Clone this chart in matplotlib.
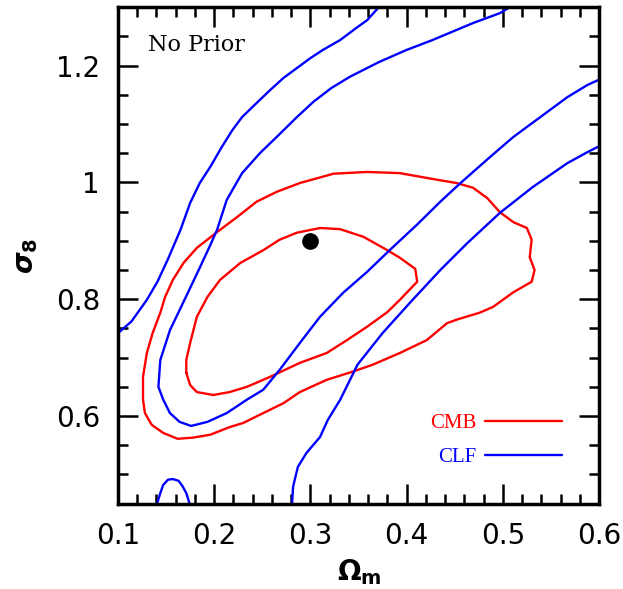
import matplotlib
matplotlib.use("Agg")
import matplotlib.pyplot as plt
from matplotlib.ticker import MultipleLocator

# CMB contours (Omega_m, sigma_8), both closed
cmb_outer_om = [0.126, 0.126, 0.130, 0.136, 0.144, 0.149, 0.157, 0.168, 0.182, 0.203, 0.224, 0.244,
                0.265, 0.289, 0.324, 0.359, 0.393, 0.427, 0.452, 0.469, 0.484, 0.497, 0.511, 0.525,
                0.530, 0.528, 0.533, 0.530, 0.511, 0.490, 0.476, 0.452, 0.442, 0.421, 0.393, 0.365,
                0.344, 0.317, 0.289, 0.272, 0.251, 0.230, 0.216, 0.196, 0.178, 0.162, 0.147, 0.135,
                0.128, 0.126]
cmb_outer_s8 = [0.628, 0.667, 0.708, 0.742, 0.777, 0.804, 0.833, 0.862, 0.888, 0.915, 0.941, 0.967,
                0.984, 0.999, 1.015, 1.018, 1.016, 1.006, 0.999, 0.991, 0.973, 0.949, 0.932, 0.922,
                0.902, 0.872, 0.850, 0.830, 0.812, 0.787, 0.777, 0.765, 0.759, 0.730, 0.708, 0.688,
                0.676, 0.662, 0.641, 0.622, 0.605, 0.588, 0.581, 0.568, 0.563, 0.561, 0.571, 0.585,
                0.605, 0.628]

cmb_inner_om = [0.171, 0.171, 0.175, 0.182, 0.193, 0.206, 0.227, 0.251, 0.268, 0.286, 0.310, 0.331,
                0.355, 0.380, 0.393, 0.409, 0.411, 0.393, 0.380, 0.359, 0.338, 0.317, 0.289, 0.258,
                0.234, 0.216, 0.199, 0.182, 0.175, 0.171]
cmb_inner_s8 = [0.674, 0.696, 0.725, 0.770, 0.804, 0.833, 0.862, 0.884, 0.902, 0.914, 0.922, 0.920,
                0.907, 0.884, 0.871, 0.852, 0.830, 0.799, 0.778, 0.753, 0.730, 0.708, 0.691, 0.667,
                0.650, 0.641, 0.636, 0.641, 0.653, 0.674]

# CLF contours, open where they leave the box
clf_inner_om = [0.520, 0.507, 0.497, 0.469, 0.427, 0.400, 0.371, 0.359, 0.341, 0.322, 0.303, 0.286,
                0.265, 0.248, 0.229, 0.213, 0.203, 0.196, 0.183, 0.170, 0.154, 0.144, 0.142, 0.147,
                0.154, 0.164, 0.176, 0.193, 0.213, 0.234, 0.251, 0.268, 0.289, 0.310, 0.334, 0.359,
                0.383, 0.411, 0.435, 0.456, 0.487, 0.511, 0.539, 0.567, 0.588, 0.600, 0.614]
clf_inner_s8 = [1.312, 1.300, 1.290, 1.273, 1.244, 1.227, 1.206, 1.196, 1.181, 1.162, 1.138, 1.112,
                1.078, 1.051, 1.016, 0.970, 0.919, 0.893, 0.847, 0.802, 0.747, 0.696, 0.650, 0.628,
                0.605, 0.590, 0.583, 0.590, 0.605, 0.628, 0.645, 0.679, 0.725, 0.770, 0.811, 0.847,
                0.885, 0.928, 0.967, 0.999, 1.044, 1.078, 1.112, 1.146, 1.167, 1.176, 1.186]

clf_left_om = [0.092, 0.100, 0.114, 0.130, 0.141, 0.152, 0.165, 0.175, 0.185, 0.196, 0.208, 0.219,
               0.229, 0.244, 0.258, 0.272, 0.286, 0.300, 0.313, 0.331, 0.348, 0.359, 0.371, 0.383]
clf_left_s8 = [0.730, 0.742, 0.762, 0.799, 0.830, 0.869, 0.919, 0.965, 0.999, 1.027, 1.061, 1.090,
               1.112, 1.136, 1.158, 1.179, 1.196, 1.213, 1.227, 1.244, 1.265, 1.278, 1.300, 1.318]

clf_right_om = [0.281, 0.281, 0.282, 0.287, 0.296, 0.310, 0.318, 0.331, 0.349, 0.375, 0.404, 0.435,
                0.463, 0.497, 0.531, 0.567, 0.588, 0.600, 0.614]
clf_right_s8 = [0.431, 0.451, 0.479, 0.513, 0.537, 0.564, 0.593, 0.628, 0.688, 0.742, 0.795, 0.850,
                0.896, 0.948, 0.992, 1.033, 1.052, 1.062, 1.073]

clf_island_om = [0.140, 0.141, 0.144, 0.147, 0.152, 0.157, 0.163, 0.167, 0.171, 0.174, 0.175]
clf_island_s8 = [0.440, 0.452, 0.468, 0.482, 0.491, 0.492, 0.489, 0.480, 0.468, 0.452, 0.440]

fid_om, fid_s8 = 0.3, 0.9

red, blue = '#ff0000', '#0000ff'
lw = 1.7

fig = plt.figure(figsize=(6.23, 5.89), dpi=100)
ax = fig.add_axes([0.1894, 0.145, 0.7721, 0.8426])

kw = dict(lw=lw, solid_joinstyle='round', solid_capstyle='round')
l_cmb, = ax.plot(cmb_outer_om, cmb_outer_s8, color=red, label='CMB', **kw)
ax.plot(cmb_inner_om, cmb_inner_s8, color=red, **kw)
l_clf, = ax.plot(clf_left_om, clf_left_s8, color=blue, label='CLF', **kw)
ax.plot(clf_right_om, clf_right_s8, color=blue, **kw)
ax.plot(clf_inner_om, clf_inner_s8, color=blue, **kw)
ax.plot(clf_island_om, clf_island_s8, color=blue, **kw)
ax.plot([fid_om], [fid_s8], 'o', color='black', ms=11)

ax.set_xlim(0.1, 0.6)
ax.set_ylim(0.45, 1.3)
ax.xaxis.set_minor_locator(MultipleLocator(0.02))
ax.yaxis.set_minor_locator(MultipleLocator(0.05))
ax.set_xticks([0.1, 0.2, 0.3, 0.4, 0.5, 0.6], ['0.1', '0.2', '0.3', '0.4', '0.5', '0.6'])
ax.set_yticks([0.6, 0.8, 1.0, 1.2], ['0.6', '0.8', '1', '1.2'])
ax.tick_params(which='both', direction='in', top=True, right=True, width=1.8, pad=13,
               labelsize=20)
ax.tick_params(which='major', length=14.5)
ax.tick_params(which='minor', length=7.2)
for s in ax.spines.values():
    s.set_linewidth(2.5)

ax.set_xlabel(r'$\mathbf{\Omega_m}$', fontsize=20)
ax.xaxis.set_label_coords(0.501, -0.108)
ax.xaxis.label.set_va('top')
ax.set_ylabel(r'$\boldsymbol{\sigma}_\mathbf{8}$', fontsize=20)
ax.yaxis.set_label_coords(-0.162, 0.5)

ax.text(0.062, 0.924, 'No Prior', transform=ax.transAxes, ha='left', va='center',
        family='DejaVu Serif', fontsize=16)

ax.legend(handles=[l_cmb, l_clf], loc='center right', bbox_to_anchor=(0.923, 0.127),
          markerfirst=False, frameon=False, labelcolor='linecolor', borderpad=0,
          borderaxespad=0, handlelength=3.7, handletextpad=0.4, labelspacing=0.68,
          prop=dict(family='Liberation Serif', size=15))

fig.savefig('out.png', dpi=100)
